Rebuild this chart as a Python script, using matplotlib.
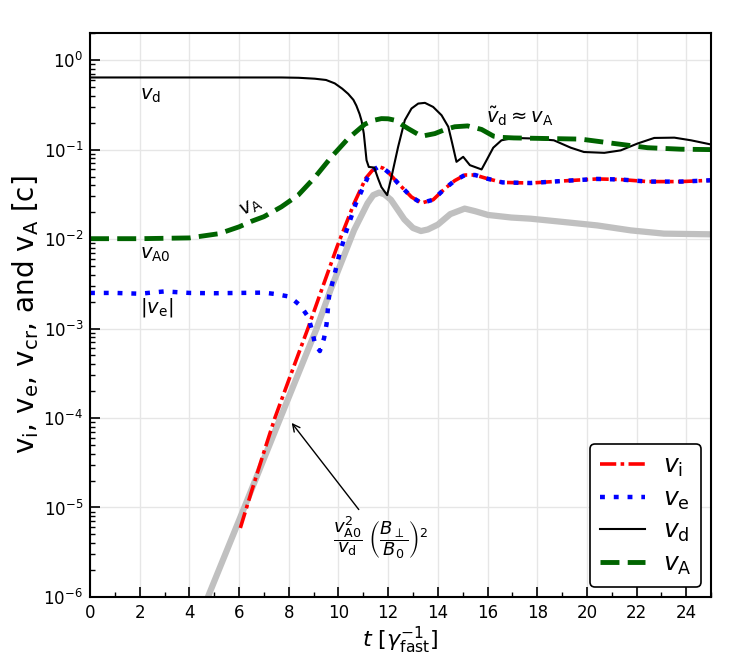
import numpy as np
import matplotlib
matplotlib.use('Agg')
import matplotlib.pyplot as plt
from matplotlib.ticker import MultipleLocator, LogLocator, NullFormatter

# --- values ---
t_i = [6.05, 6.5, 7.0, 7.44, 8.1, 8.77, 9.28, 9.95, 10.63, 11.1, 11.35, 11.6, 11.8, 12.0, 12.4,
       12.94, 13.34, 13.81, 14.28, 14.68, 15.09, 15.5, 16.03, 16.6, 17.73, 19.08, 20.42, 21.36,
       22.44, 23.79, 25.0]
v_i = [5.9e-6, 1.51e-5, 4.17e-5, 1.0e-4, 3.16e-4, 1.0e-3, 2.51e-3, 8.3e-3, 0.0251, 0.0479,
       0.058, 0.0646, 0.062, 0.056, 0.042, 0.0295, 0.0253, 0.0275, 0.0366, 0.045, 0.052, 0.052,
       0.047, 0.043, 0.0423, 0.0447, 0.047, 0.0463, 0.0439, 0.0439, 0.0454]

t_e = [0, 1, 2, 3, 4, 5, 6, 7, 7.46, 8.04, 8.47, 8.78, 8.94, 9.05, 9.25, 9.42, 9.52, 9.62,
       9.89, 10.02, 10.33, 10.7, 11.17, 11.4, 11.6, 11.8, 12.0, 12.4, 12.94, 13.34, 13.81,
       14.28, 14.68, 15.09, 15.5, 16.03, 16.6, 17.73, 19.08, 20.42, 21.36, 22.44, 23.79, 25.0]
v_e = [0.0025, 0.0025, 0.00245, 0.0026, 0.0025, 0.00248, 0.0025, 0.00252, 0.00243, 0.00227,
       0.0018, 0.00135, 0.00095, 0.00068, 0.00056, 0.00078, 0.00112, 0.00229, 0.00457,
       0.00646, 0.0126, 0.025, 0.0484, 0.059, 0.064, 0.062, 0.056, 0.042, 0.0295, 0.0253,
       0.0275, 0.0366, 0.045, 0.052, 0.052, 0.047, 0.043, 0.0423, 0.0447, 0.047, 0.0463,
       0.0439, 0.0439, 0.0454]

t_d = [0, 2, 4, 6, 7, 7.7, 8.4, 9.05, 9.5, 9.85, 10.15, 10.39, 10.6, 10.72, 10.85, 10.93,
       11.02, 11.13, 11.22, 11.44, 11.6, 11.73, 11.96, 12.13, 12.4, 12.67, 12.94, 13.21, 13.48,
       13.81, 14.15, 14.42, 14.58, 14.75, 15.02, 15.29, 15.76, 15.96, 16.23, 16.56, 17.06,
       17.87, 18.67, 19.35, 19.88, 20.7, 21.36, 22.04, 22.71, 23.52, 24.19, 25.0]
v_d = [0.64, 0.64, 0.64, 0.64, 0.64, 0.64, 0.635, 0.62, 0.60, 0.55, 0.48, 0.42, 0.36, 0.31,
       0.25, 0.21, 0.151, 0.076, 0.064, 0.063, 0.047, 0.038, 0.031, 0.049, 0.107, 0.213, 0.288,
       0.327, 0.333, 0.30, 0.242, 0.18, 0.117, 0.073, 0.083, 0.067, 0.060, 0.076, 0.105, 0.127,
       0.135, 0.133, 0.127, 0.105, 0.094, 0.092, 0.098, 0.117, 0.135, 0.136, 0.127, 0.114]

t_A = [0, 2, 4, 5.2, 6.0, 6.5, 7.0, 7.7, 8.38, 9.05, 9.72, 10.39, 11.06, 11.4, 11.73, 12.0,
       12.27, 12.8, 13.34, 13.88, 14.3, 14.68, 15.2, 15.76, 16.25, 16.56, 17.06, 18.4, 19.75,
       21.1, 22.44, 23.79, 25.0]
v_A = [0.0101, 0.0101, 0.0103, 0.0115, 0.0137, 0.0158, 0.0178, 0.0229, 0.031, 0.049, 0.083,
       0.133, 0.192, 0.212, 0.222, 0.221, 0.213, 0.172, 0.141, 0.151, 0.168, 0.18, 0.184,
       0.168, 0.141, 0.137, 0.135, 0.133, 0.131, 0.117, 0.105, 0.101, 0.100]

t_cr = [4.5, 6.21, 7.66, 9.12, 9.68, 10.16, 10.63, 11.17, 11.4, 11.64, 11.85, 12.11, 12.4,
        12.65, 13.0, 13.32, 13.6, 14.0, 14.5, 15.08, 15.5, 16.02, 16.96, 17.73, 19.08, 20.42,
        21.77, 23.1, 25.0]
v_cr = [6.8e-7, 1.0e-5, 1.0e-4, 1.0e-3, 2.7e-3, 5.9e-3, 0.0126, 0.0251, 0.031, 0.0331,
        0.0316, 0.0275, 0.021, 0.0166, 0.0133, 0.0123, 0.0128, 0.0145, 0.019, 0.0219, 0.0205,
        0.0186, 0.0174, 0.0169, 0.0155, 0.0142, 0.0125, 0.0115, 0.0113]

fig = plt.figure(figsize=(7.47, 6.64), dpi=100)
ax = fig.add_axes([0.1205, 0.101, 0.8315, 0.849])

ax.plot(t_cr, v_cr, color='#c0c0c0', lw=4.5, solid_capstyle='butt')
ax.plot(t_i, v_i, color='red', lw=2.6, dashes=(4.5, 1.2, 1.0, 1.2), label=r'$v_\mathrm{i}$')
ax.plot(t_e, v_e, color='blue', lw=3.2, dashes=(1.1, 2.0), label=r'$v_\mathrm{e}$')
ax.plot(t_d, v_d, color='black', lw=1.5, label=r'$v_\mathrm{d}$')
ax.plot(t_A, v_A, color='#006400', lw=3.5, dashes=(3.9, 1.7), label=r'$v_\mathrm{A}$')

ax.set_yscale('log')
ax.set_xlim(0, 25)
ax.set_ylim(1e-6, 2)
ax.xaxis.set_major_locator(MultipleLocator(2))
ax.xaxis.set_minor_locator(MultipleLocator(1))
ax.yaxis.set_major_locator(LogLocator(base=10, numticks=10))
ax.yaxis.set_minor_locator(LogLocator(base=10, subs=np.arange(2, 10), numticks=20))
ax.yaxis.set_minor_formatter(NullFormatter())
ax.tick_params(which='both', direction='in', top=False, right=False, labelsize=12, pad=5)
ax.tick_params(which='major', length=7, width=1.2)
ax.tick_params(which='minor', length=3.5, width=1)
ax.grid(True, which='major', color='#e6e6e6', lw=1)
ax.set_axisbelow(True)
for s in ax.spines.values():
    s.set_linewidth(1.5)

ax.set_xlabel(r'$t\ [\gamma_\mathrm{fast}^{-1}]$', fontsize=16, labelpad=2)
ax.set_ylabel(r'v$_\mathrm{i}$, v$_\mathrm{e}$, v$_\mathrm{cr}$, and v$_\mathrm{A}$ [c]',
              fontsize=20, labelpad=2)

# curve labels
ax.text(2.0, 10**-0.40, r'$v_\mathrm{d}$', fontsize=14, va='center', ha='left')
ax.text(2.0, 10**-2.17, r'$v_\mathrm{A0}$', fontsize=14, va='center', ha='left')
ax.text(2.0, 10**-2.77, r'$|v_\mathrm{e}|$', fontsize=14, va='center', ha='left')
ax.text(6.5, 10**-1.64, r'$v_\mathrm{A}$', fontsize=14, va='center', ha='center', rotation=30)
ax.text(15.95, 10**-0.63, r'$\tilde{v}_\mathrm{d} \approx v_\mathrm{A}$', fontsize=14,
        va='center', ha='left')
ax.annotate(r'$\dfrac{v_\mathrm{A0}^2}{v_\mathrm{d}}\ \left(\dfrac{B_\perp}{B_0}\right)^2$',
            xy=(8.05, 10**-4.03), xytext=(11.7, 10**-5.34), fontsize=13,
            ha='center', va='center',
            arrowprops=dict(arrowstyle='->', color='black', lw=1))

leg = ax.legend(loc='lower right', fontsize=18, handlelength=1.8, handletextpad=0.7,
                labelspacing=0.3, borderpad=0.4, borderaxespad=0.4, fancybox=True,
                framealpha=1)
leg.get_frame().set_edgecolor('black')
leg.get_frame().set_linewidth(1.2)

fig.savefig('out.png', dpi=100)
